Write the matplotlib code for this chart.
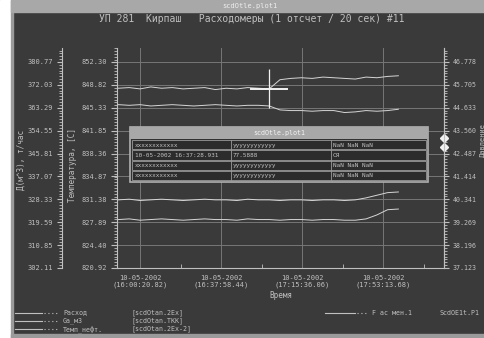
import matplotlib
matplotlib.use('Agg')
import matplotlib.pyplot as plt
from matplotlib.ticker import AutoMinorLocator
from matplotlib.patches import Rectangle

# данные (время в минутах от 16:00:20.82)
times = [-10, -5, 0, 5, 10, 15, 20, 25, 30, 35, 40, 45, 50, 55, 60,
         65, 70, 75, 80, 85, 90, 95, 100, 105, 110, 115, 120]
series_a = [848.3, 848.4, 848.2, 848.5, 848.3, 848.4, 848.2, 848.3, 848.4, 848.1,
            848.3, 848.2, 848.4, 848.3, 848.2, 849.6, 849.8, 849.9, 849.8, 850.0,
            849.9, 849.8, 849.7, 850.0, 849.9, 850.1, 850.2]
series_b = [845.8, 845.7, 845.8, 845.6, 845.7, 845.8, 845.7, 845.6, 845.7, 845.8,
            845.7, 845.6, 845.7, 845.7, 845.6, 845.0, 844.9, 844.9, 844.8, 844.9,
            844.9, 844.6, 844.7, 844.9, 844.8, 844.9, 845.1]
series_c = [831.3, 831.4, 831.2, 831.3, 831.4, 831.3, 831.2, 831.3, 831.4, 831.3,
            831.3, 831.2, 831.4, 831.3, 831.3, 831.2, 831.3, 831.3, 831.2, 831.3,
            831.3, 831.2, 831.3, 831.6, 832.0, 832.4, 832.5]
series_d = [828.3, 828.4, 828.2, 828.3, 828.4, 828.3, 828.2, 828.3, 828.4, 828.3,
            828.3, 828.2, 828.4, 828.3, 828.3, 828.2, 828.3, 828.3, 828.2, 828.3,
            828.3, 828.2, 828.2, 828.4, 829.0, 829.8, 829.9]

tick_times = [0, 37.627, 75.254, 112.881]
tick_labels = ['10-05-2002\n(16:00:20.82)', '10-05-2002\n(16:37:58.44)',
               '10-05-2002\n(17:15:36.06)', '10-05-2002\n(17:53:13.68)']
temp_ticks = [820.92, 824.40, 827.89, 831.38, 834.87, 838.36, 841.85, 845.33, 848.82, 852.30]
flow_ticks = [302.11, 310.85, 319.59, 328.33, 337.07, 345.81, 354.55, 363.29, 372.03, 380.77]
press_ticks = [37.123, 38.196, 39.269, 40.341, 41.414, 42.487, 43.560, 44.633, 45.705, 46.778]
cursor_marks = [43.2, 42.8]

legend_names = ['Расход', 'Ga_м3', 'Темп_нефт.']
legend_src = ['[scdOtan.2Ex]', '[scdOtan.TKK]', '[scdOtan.2Ex-2]']

table_rows = [['xxxxxxxxxxxx', 'yyyyyyyyyyyy', 'NaN NaN NaN'],
              ['10-05-2002 16:37:28.931', '77.5888', 'СЯ'],
              ['xxxxxxxxxxxx', 'yyyyyyyyyyyy', 'NaN NaN NaN'],
              ['xxxxxxxxxxxx', 'yyyyyyyyyyyy', 'NaN NaN NaN']]

BG = '#3a3a3a'
FG = '#c0c0c0'
GRID = '#767676'
LINE = '#d6d6d6'
plt.rcParams['font.family'] = 'DejaVu Sans Mono'

W, H = 485, 338
fig = plt.figure(figsize=(W / 100, H / 100), dpi=100)
fig.patch.set_facecolor(BG)

# фон окна
bg = fig.add_axes([0, 0, 1, 1], zorder=0)
bg.set_xlim(0, W)
bg.set_ylim(H, 0)
bg.axis('off')
bg.add_patch(Rectangle((0, 0), 11, H, color='white'))
bg.add_patch(Rectangle((11, 0), 2, H, color='#9a9a9a'))
bg.add_patch(Rectangle((11, 0), W - 11, 12, color='#a8a8a8'))
bg.add_patch(Rectangle((11, 334), W - 11, 4, color='#9a9a9a'))
bg.text(250, 6, 'scdOtle.plot1', color='#eeeeee', fontsize=5, ha='center', va='center')
bg.text(252, 19.5, 'УП 281  Кирпаш   Расходомеры (1 отсчет / 20 сек) #11',
        color=FG, fontsize=7, ha='center', va='center')

x0, x1, y0, y1 = 117, 444, 48, 268
ax = fig.add_axes([x0 / W, 1 - y1 / H, (x1 - x0) / W, (y1 - y0) / H], zorder=1)
ax.set_facecolor('none')
ax.spines['top'].set_visible(False)
for s in ['left', 'bottom', 'right']:
    ax.spines[s].set_color(FG)
    ax.spines[s].set_linewidth(0.8)

ax.plot(times, series_a, color=LINE, lw=0.7)
ax.plot(times, series_b, color=LINE, lw=0.7)
ax.plot(times, series_c, color=LINE, lw=0.7)
ax.plot(times, series_d, color=LINE, lw=0.7)

# курсор
ct, cv = times[14], series_a[14]
ax.plot([ct - 8.5, ct + 8.5], [cv, cv], color='#f2f2f2', lw=1.4)
ax.vlines(ct, cv - 2.9, cv + 3.1, color='#f2f2f2', lw=0.9)

ax.set_xlim(-10.7, 141.2)
ax.set_ylim(820.92, 854.43)
ax.set_yticks(temp_ticks)
ax.set_yticklabels(['%.2f' % v for v in temp_ticks])
ax.set_xticks(tick_times)
ax.set_xticklabels(tick_labels)
ax.xaxis.set_minor_locator(AutoMinorLocator(2))
ax.yaxis.set_minor_locator(AutoMinorLocator(8))
ax.grid(True, color=GRID, lw=0.7)
ax.tick_params(axis='y', which='both', colors=FG, labelsize=5, direction='out', pad=3)
ax.tick_params(axis='y', which='major', length=4)
ax.tick_params(axis='y', which='minor', length=2)
ax.tick_params(axis='x', which='both', colors=FG, labelsize=5, direction='in', pad=5)
ax.tick_params(axis='x', which='major', length=0)
ax.tick_params(axis='x', which='minor', length=3)
ax.set_xlabel('Время', color=FG, fontsize=5.5, labelpad=2)

# внешняя левая ось
ax2 = ax.twinx()
ax2.set_zorder(1)
ax2.spines['right'].set_visible(False)
ax2.spines['top'].set_visible(False)
ax2.spines['bottom'].set_visible(False)
ax2.spines['left'].set_position(('axes', -(x0 - 62) / (x1 - x0)))
ax2.spines['left'].set_color(FG)
ax2.spines['left'].set_linewidth(0.8)
ax2.yaxis.set_ticks_position('left')
ax2.yaxis.set_label_position('left')
ax2.set_ylim(302.11, 386.11)
ax2.set_yticks(flow_ticks)
ax2.set_yticklabels(['%.2f' % v for v in flow_ticks])
ax2.yaxis.set_minor_locator(AutoMinorLocator(8))
ax2.tick_params(axis='y', which='both', colors=FG, labelsize=5, direction='out', pad=3)
ax2.tick_params(axis='y', which='minor', length=2)

# правая ось
ax3 = ax.twinx()
ax3.set_zorder(1)
for s in ['left', 'top', 'bottom']:
    ax3.spines[s].set_visible(False)
ax3.spines['right'].set_color(FG)
ax3.spines['right'].set_linewidth(0.8)
ax3.set_ylim(37.123, 47.434)
ax3.set_yticks(press_ticks)
ax3.set_yticklabels(['%.3f' % v for v in press_ticks])
ax3.yaxis.set_minor_locator(AutoMinorLocator(8))
ax3.tick_params(axis='y', which='both', colors=FG, labelsize=4.8, direction='out', pad=3)
ax3.tick_params(axis='y', which='minor', length=2)
ax3.plot([1.0] * len(cursor_marks), cursor_marks, 'D', color='#f0f0f0', ms=4,
         transform=ax3.get_yaxis_transform(), clip_on=False)

# подписи осей и легенда
ov = fig.add_axes([0, 0, 1, 1], zorder=5)
ov.set_facecolor('none')
ov.set_xlim(0, W)
ov.set_ylim(H, 0)
ov.axis('off')
ov.text(21, 160, 'Д(м^3), т/час', rotation=90, color=FG, fontsize=5.5, ha='center', va='center')
ov.text(73, 165, 'Температура, [C]', rotation=90, color=FG, fontsize=5.5, ha='center', va='center')
ov.text(483, 140, 'Давление', rotation=90, color=FG, fontsize=5, ha='center', va='center')

for i, (name, src) in enumerate(zip(legend_names, legend_src)):
    yy = 313 + i * 8
    ov.plot([15, 42], [yy, yy], color=FG, lw=0.8)
    ov.plot([44, 58], [yy, yy], color=FG, lw=0.8, ls=(0, (1, 2.5)))
    ov.text(63, yy, name, color=FG, fontsize=4.8, va='center')
    ov.text(132, yy, src, color=FG, fontsize=4.8, va='center')
ov.plot([325, 355], [313, 313], color=FG, lw=0.8)
ov.plot([357, 368], [313, 313], color=FG, lw=0.8, ls=(0, (1, 2.5)))
ov.text(372, 313, 'F ас мен.1', color=FG, fontsize=4.8, va='center')
ov.text(440, 313, 'ScdOE1t.P1', color=FG, fontsize=4.8, va='center')

# всплывающая таблица
tx0, tx1, ty0, ty1 = 130, 428, 127, 182
ov.add_patch(Rectangle((tx0, ty0), tx1 - tx0, ty1 - ty0, facecolor='#323232',
                       edgecolor='#b0b0b0', lw=1.2))
ov.add_patch(Rectangle((tx0, ty0), tx1 - tx0, 12, facecolor='#a8a8a8', edgecolor='none'))
ov.text((tx0 + tx1) / 2, ty0 + 6, 'scdOtle.plot1', color='#f4f4f4', fontsize=4.8,
        ha='center', va='center')
col_x = [tx0 + 3, 231, 331]
row_h = (ty1 - ty0 - 14) / 4
for r, row in enumerate(table_rows):
    top = ty0 + 13 + r * row_h
    ov.add_patch(Rectangle((tx0 + 2, top), tx1 - tx0 - 4, row_h - 1, facecolor='#2c2c2c',
                           edgecolor='#9a9a9a', lw=0.6))
    for c, txt in enumerate(row):
        ov.text(col_x[c] + 2, top + row_h / 2, txt, color=FG, fontsize=4.3, va='center')
for cx in col_x[1:]:
    ov.plot([cx, cx], [ty0 + 13, ty1 - 2], color='#9a9a9a', lw=0.6)

fig.savefig('out.png', dpi=100, facecolor=fig.get_facecolor())
